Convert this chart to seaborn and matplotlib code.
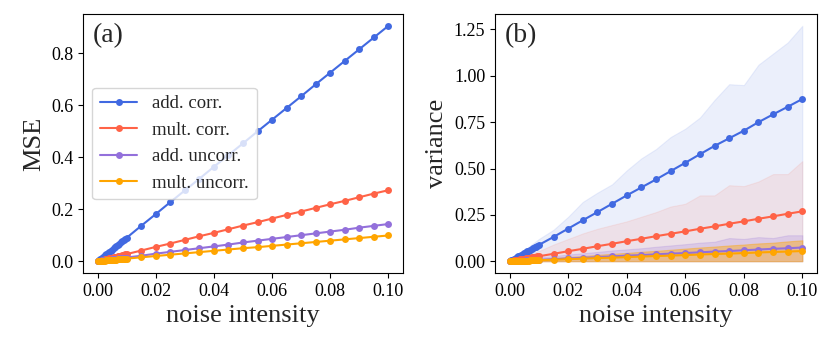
import matplotlib
matplotlib.use("Agg")
import matplotlib.pyplot as plt
import seaborn as sns

# Données
noise = [0.0000, 0.0005, 0.0010, 0.0015, 0.0020, 0.0025, 0.0030, 0.0035, 0.0040, 0.0045, 0.0050,
         0.0055, 0.0060, 0.0065, 0.0070, 0.0075, 0.0080, 0.0085, 0.0090, 0.0095, 0.0100,
         0.015, 0.020, 0.025, 0.030, 0.035, 0.040, 0.045, 0.050, 0.055, 0.060,
         0.065, 0.070, 0.075, 0.080, 0.085, 0.090, 0.095, 0.100]

labels = ["add. corr.", "mult. corr.", "add. uncorr.", "mult. uncorr."]
colors = ["royalblue", "tomato", "mediumpurple", "orange"]
band_alpha = [0.1, 0.1, 0.2, 0.4]

# (a) MSE
mse_add_corr = [0.000, 0.0045, 0.009, 0.0135, 0.018, 0.0225, 0.027, 0.0315, 0.036, 0.0405, 0.045,
                0.0495, 0.054, 0.0585, 0.063, 0.0675, 0.072, 0.0765, 0.081, 0.0855, 0.090,
                0.136, 0.181, 0.227, 0.272, 0.317, 0.363, 0.408, 0.453, 0.499, 0.544,
                0.589, 0.634, 0.680, 0.725, 0.770, 0.815, 0.860, 0.905]
mse_mult_corr = [0.000, 0.0014, 0.0027, 0.0041, 0.0055, 0.0068, 0.0082, 0.0096, 0.0109, 0.0123, 0.0137,
                 0.015, 0.0164, 0.0177, 0.0191, 0.0205, 0.0218, 0.0232, 0.0246, 0.0259, 0.0273,
                 0.041, 0.055, 0.068, 0.082, 0.096, 0.109, 0.123, 0.137, 0.150, 0.164,
                 0.178, 0.191, 0.205, 0.219, 0.232, 0.246, 0.260, 0.273]
mse_add_uncorr = [0.000, 0.0007, 0.0014, 0.0021, 0.0029, 0.0036, 0.0043, 0.005, 0.0057, 0.0064, 0.0072,
                  0.0079, 0.0086, 0.0093, 0.010, 0.0107, 0.0114, 0.0122, 0.0129, 0.0136, 0.0143,
                  0.021, 0.029, 0.036, 0.043, 0.050, 0.057, 0.064, 0.072, 0.079, 0.086,
                  0.093, 0.100, 0.107, 0.114, 0.121, 0.129, 0.136, 0.143]
mse_mult_uncorr = [0.000, 0.0005, 0.001, 0.0015, 0.002, 0.0025, 0.003, 0.0035, 0.004, 0.0045, 0.005,
                   0.0054, 0.0059, 0.0064, 0.0069, 0.0074, 0.0079, 0.0084, 0.0089, 0.0094, 0.0099,
                   0.015, 0.020, 0.025, 0.030, 0.035, 0.040, 0.045, 0.050, 0.054, 0.059,
                   0.064, 0.069, 0.074, 0.079, 0.084, 0.089, 0.094, 0.099]

# (b) variance (moyenne + bande supérieure)
var_add_corr = [0.000, 0.0044, 0.0088, 0.0132, 0.0176, 0.022, 0.0264, 0.0308, 0.0352, 0.0396, 0.044,
                0.0484, 0.0528, 0.0572, 0.0616, 0.066, 0.0704, 0.0748, 0.0792, 0.0836, 0.088,
                0.131, 0.176, 0.221, 0.265, 0.310, 0.355, 0.398, 0.441, 0.486, 0.531,
                0.577, 0.622, 0.663, 0.704, 0.750, 0.792, 0.833, 0.875]
var_mult_corr = [0.000, 0.0013, 0.0027, 0.004, 0.0054, 0.0067, 0.0081, 0.0094, 0.0108, 0.0121, 0.0135,
                 0.0148, 0.0161, 0.0175, 0.0188, 0.0202, 0.0215, 0.0229, 0.0242, 0.0256, 0.0269,
                 0.040, 0.054, 0.067, 0.081, 0.094, 0.108, 0.121, 0.135, 0.148, 0.161,
                 0.175, 0.188, 0.202, 0.215, 0.229, 0.242, 0.256, 0.269]
var_add_uncorr = [0.000, 0.0004, 0.0007, 0.0011, 0.0015, 0.0019, 0.0022, 0.0026, 0.003, 0.0033, 0.0037,
                  0.0041, 0.0044, 0.0048, 0.0052, 0.0056, 0.0059, 0.0063, 0.0067, 0.007, 0.0074,
                  0.011, 0.015, 0.018, 0.022, 0.026, 0.030, 0.033, 0.037, 0.041, 0.044,
                  0.048, 0.052, 0.055, 0.059, 0.063, 0.067, 0.070, 0.074]
var_mult_uncorr = [0.000, 0.0003, 0.0006, 0.0008, 0.0011, 0.0014, 0.0017, 0.0019, 0.0022, 0.0025, 0.0028,
                   0.003, 0.0033, 0.0036, 0.0039, 0.0041, 0.0044, 0.0047, 0.005, 0.0052, 0.0055,
                   0.008, 0.011, 0.014, 0.017, 0.019, 0.022, 0.025, 0.028, 0.030, 0.033,
                   0.036, 0.039, 0.041, 0.044, 0.047, 0.050, 0.052, 0.055]

up_add_corr = [0.000, 0.006, 0.012, 0.018, 0.024, 0.030, 0.036, 0.042, 0.048, 0.054, 0.060,
               0.066, 0.072, 0.078, 0.084, 0.090, 0.096, 0.102, 0.108, 0.114, 0.120,
               0.170, 0.240, 0.320, 0.370, 0.415, 0.490, 0.555, 0.605, 0.670, 0.715,
               0.775, 0.870, 0.955, 0.950, 1.060, 1.120, 1.180, 1.270]
up_mult_corr = [0.000, 0.0028, 0.0055, 0.0083, 0.011, 0.0138, 0.0165, 0.0193, 0.022, 0.0248, 0.0275,
                0.0303, 0.033, 0.0358, 0.0385, 0.0413, 0.044, 0.0468, 0.0495, 0.0523, 0.055,
                0.090, 0.120, 0.150, 0.175, 0.195, 0.215, 0.240, 0.265, 0.295, 0.310,
                0.355, 0.355, 0.410, 0.405, 0.430, 0.470, 0.470, 0.540]
up_add_uncorr = [0.000, 0.001, 0.002, 0.003, 0.004, 0.005, 0.006, 0.007, 0.008, 0.009, 0.010,
                 0.011, 0.012, 0.013, 0.014, 0.015, 0.016, 0.017, 0.018, 0.019, 0.020,
                 0.028, 0.036, 0.043, 0.050, 0.058, 0.064, 0.070, 0.078, 0.085, 0.092,
                 0.100, 0.105, 0.125, 0.120, 0.130, 0.125, 0.140, 0.140]
up_mult_uncorr = [0.000, 0.0006, 0.0011, 0.0017, 0.0022, 0.0028, 0.0033, 0.0039, 0.0044, 0.005, 0.0055,
                  0.0061, 0.0066, 0.0072, 0.0077, 0.0083, 0.0088, 0.0094, 0.0099, 0.0105, 0.011,
                  0.017, 0.023, 0.028, 0.034, 0.040, 0.045, 0.051, 0.056, 0.062, 0.068,
                  0.074, 0.079, 0.085, 0.090, 0.096, 0.100, 0.107, 0.113]
lo_band = [0.0] * len(noise)

mse = [mse_add_corr, mse_mult_corr, mse_add_uncorr, mse_mult_uncorr]
var = [var_add_corr, var_mult_corr, var_add_uncorr, var_mult_uncorr]
var_up = [up_add_corr, up_mult_corr, up_add_uncorr, up_mult_uncorr]

sns.set_style("ticks", {"axes.edgecolor": "black", "xtick.color": "black", "ytick.color": "black"})
plt.rcParams["font.family"] = ["Liberation Serif", "DejaVu Serif"]

fig = plt.figure(figsize=(8.3, 3.46), dpi=100)
ax_a = fig.add_axes([0.100, 0.211, 0.3855, 0.7485])
ax_b = fig.add_axes([0.5964, 0.211, 0.3879, 0.7485])

# --- Panel (a) : MSE
for y, lab, c in zip(mse, labels, colors):
    sns.lineplot(x=noise, y=y, ax=ax_a, color=c, label=lab, marker="o",
                 markersize=5, markeredgewidth=0, linewidth=1.5)

# --- Panel (b) : variance avec bande
for y, up, c, a in zip(var, var_up, colors, band_alpha):
    ax_b.fill_between(noise, lo_band, up, color=c, alpha=a, linewidth=0.8)
    sns.lineplot(x=noise, y=y, ax=ax_b, color=c, marker="o", legend=False,
                 markersize=5, markeredgewidth=0, linewidth=1.5)

for ax, ylab, tag in [(ax_a, "MSE", "(a)"), (ax_b, "variance", "(b)")]:
    ax.set_xlabel("noise intensity", fontsize=19)
    ax.set_ylabel(ylab, fontsize=19)
    ax.tick_params(labelsize=13)
    ax.set_xticks([0.0, 0.02, 0.04, 0.06, 0.08, 0.10])
    ax.text(0.03, 0.965, tag, transform=ax.transAxes, fontsize=20, va="top", ha="left")

ax_b.set_yticks([0.0, 0.25, 0.5, 0.75, 1.0, 1.25])
ax_a.legend(loc="center left", fontsize=13.5)

fig.savefig("out.png", dpi=100)
